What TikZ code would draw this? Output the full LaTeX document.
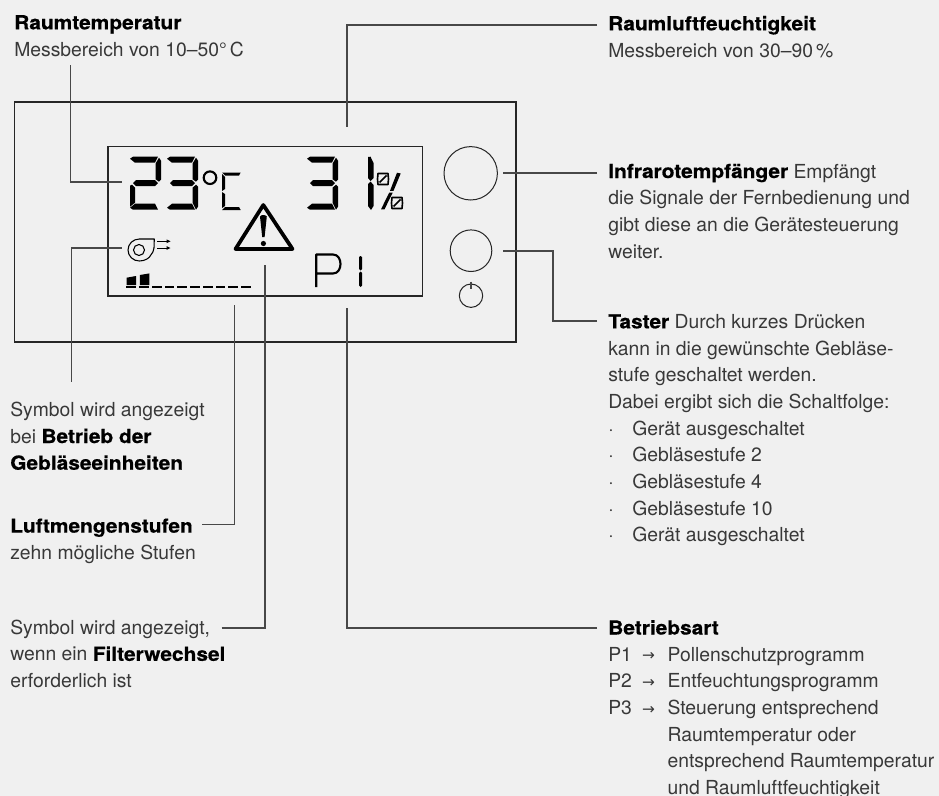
\documentclass[tikz,border=0pt]{standalone}
\usepackage{fontspec}
\setmainfont{TeX Gyre Heros}
\newfontface\hdfont[FakeBold=0.5,FakeStretch=1.08]{TeX Gyre Heros Bold}
\definecolor{bgc}{HTML}{F0F0F0}
\definecolor{txt}{HTML}{383838}
\definecolor{lead}{HTML}{484848}
\newcommand{\sA}{\fill (0,2)--(3,0)--(28,0)--(25,6)--(5,6)--cycle;}
\newcommand{\sB}{\fill (29,1)--(31,4)--(31,23)--(29,25)--(25.5,22.5)--(25.5,7)--cycle;}
\newcommand{\sC}{\fill (29,28)--(31,30)--(31,50)--(29,53)--(25.5,46)--(25.5,31)--cycle;}
\newcommand{\sD}{\fill (0,51)--(5,47)--(25,47)--(28,53)--(3,53)--cycle;}
\newcommand{\sE}{\fill (0,29)--(2,28)--(5,31)--(5,46)--(0,50)--cycle;}
\newcommand{\sG}{\fill (3,26.5)--(6,23.5)--(25,23.5)--(28,26.5)--(25,29.5)--(6,29.5)--cycle;}
\newcommand{\msmall}{%
 \draw[line width=1.2pt,line join=round] (1,0.5)--(11,0.5)--(11.5,6)--(11,11.5)--(1,11.5)--(0.5,6)--cycle (2.5,9.5)--(9.5,2.5);}
\newcommand{\arr}{\raisebox{0.3pt}{\fontspec{DejaVu Sans}\fontsize{11.5}{11.5}\selectfont →}}
\newcommand{\itm}{\makebox[18pt][l]{·}}
\newcommand{\pl}[1]{\makebox[25.3pt][l]{#1}\makebox[19.2pt][l]{\arr}}
\tikzset{
 x=0.75pt,y=-0.75pt,
 leader/.style={draw=lead,line width=0.8pt},
 frame/.style={draw=black!85,line width=0.9pt},
 lbl/.style={anchor=base west,inner sep=0pt,align=left,text=txt,font=\fontsize{14.5}{20}\selectfont},
 ring/.style={draw=black!85,line width=0.75pt},
}
\newcommand{\hd}[1]{{\hdfont\color{black}#1}}
\begin{document}
\begin{tikzpicture}
\useasboundingbox[fill=bgc] (0,0) rectangle (939,796);
% housings
\draw[frame] (14.5,102) rectangle (516,342);
\draw[frame] (108,146.7) rectangle (422.7,296);
\node[ring,circle,minimum size=53.4*0.75pt,inner sep=0pt] (ir) at (470.7,173.3) {};
\node[ring,circle,minimum size=41.6*0.75pt,inner sep=0pt] (btn) at (471,250.7) {};
\node[ring,circle,minimum size=23.4*0.75pt,inner sep=0pt] (pw) at (471,295.7) {};
\draw[draw=lead,line width=0.8pt] (471,281.5)--(471,289);
% digits
\begin{scope}[shift={(130,156.7)}]\sA\sB\sG\sE\sD\end{scope}
\begin{scope}[shift={(167,156.7)}]\sA\sB\sG\sC\sD\end{scope}
\begin{scope}[shift={(307,156.7)}]\sA\sB\sG\sC\sD\end{scope}
\fill (368,157)--(370.5,156.7)--(373.5,163)--(373.5,178)--(370.5,181)--(368,178)--cycle;
\fill (368,184)--(370.5,181.5)--(373.5,185)--(373.5,206)--(371,210)--(368,206)--cycle;
% percent
\fill (397,172.7)--(400.7,173.5)--(393.5,190.8)--(390,190.8)--cycle;
\fill (389.2,192.7)--(392.7,192.7)--(384.5,209.3)--(381,209.3)--cycle;
\begin{scope}[shift={(377,173)}]\msmall\end{scope}
\begin{scope}[shift={(391,197)}]\msmall\end{scope}
% degree C
\draw[line width=1.6pt] (210,177.7) circle (6.3);
\fill (222,172.5)--(240.7,172.5)--(239,175.5)--(225,175.5)--cycle;
\fill (222,174)--(225,177)--(225,189)--(222,191)--cycle;
\fill (222,192)--(225,194)--(225,206)--(222,208)--cycle;
\fill (222,210)--(225,207)--(239,207)--(240.7,210)--cycle;
% fan
\draw[line width=0.8pt,line join=round] (139.3,239) .. controls (133.1,239) and (128,243.9) .. (128,250)
 .. controls (128,256.1) and (133.1,261) .. (139.3,261)
 .. controls (145,261) and (149.5,258) .. (150.5,255.5) .. controls (152.5,253) and (153.8,251) .. (154,248) -- (154.3,239) -- cycle;
\draw[line width=0.8pt] (139,250) circle (5.5);
\draw[line width=0.7pt] (157,241.3)--(167,241.3);\fill (166.5,239.4)--(170.5,241.3)--(166.5,243.2)--cycle;
\draw[line width=0.7pt] (157,248)--(167,248);\fill (166.5,246.1)--(170.5,248)--(166.5,249.9)--cycle;
% level bars
\fill (126.5,285)--(126.5,277.7)--(136,276)--(136,285)--cycle;
\fill (139.9,285)--(139.9,275)--(149.4,273.4)--(149.4,285)--cycle;
\foreach \i in {0,...,9} \fill (126.4+12.75*\i,286.3) rectangle ++(9.6,2.1);
% warning
\draw[line width=2.8pt,line join=round] (263.3,205)--(292.5,249)--(235.5,249)--cycle;
\fill (260,216.5) .. controls (261,214.5) and (265.5,214.5) .. (266.8,216.5)--(264.6,237)--(262.2,237)--cycle;
\fill (263.4,243.5) circle (2.6);
% P1
\draw[line width=1.6pt,line join=round] (316.3,287)--(316.3,254.5)--(333,254.5) .. controls (343,254.5) and (343,273.5) .. (333,273.5)--(316.3,273.5);
\fill (359,257)--(360.5,256)--(362,257)--(362,269)--(360.5,270.5)--(359,269)--cycle;
\fill (359,273)--(360.5,271.5)--(362,273)--(362,285.5)--(360.5,287)--(359,285.5)--cycle;
% labels
\node[lbl] (a) at (14,56) {\hd{Raumtemperatur}\\Messbereich von 10--50°\,C};
\node[lbl] (b) at (608,57) {\hd{Raumluftfeuchtigkeit}\\Messbereich von 30--90\,\%};
\node[lbl] (c) at (608,258) {\hd{Infrarotempfänger} Empfängt\\die Signale der Fernbedienung und\\gibt diese an die Gerätesteuerung\\weiter.};
\node[lbl] (d) at (608,541.7) {\hd{Taster} Durch kurzes Drücken\\kann in die gewünschte Gebläse-\\stufe geschaltet werden.\\Dabei ergibt sich die Schaltfolge:\\\itm Gerät ausgeschaltet\\\itm Gebläsestufe 2\\\itm Gebläsestufe 4\\\itm Gebläsestufe 10\\\itm Gerät ausgeschaltet};
\node[lbl] (e) at (608,794.5) {\hd{Betriebsart}\\\pl{P1}Pollenschutzprogramm\\\pl{P2}Entfeuchtungsprogramm\\\pl{P3}Steuerung entsprechend\\\hspace{44.5pt}Raumtemperatur oder\\\hspace{44.5pt}entsprechend Raumtemperatur\\\hspace{44.5pt}und Raumluftfeuchtigkeit};
\node[lbl] (f) at (10,469.7) {Symbol wird angezeigt\\bei \hd{Betrieb der}\\\hd{Gebläseeinheiten}};
\node[lbl] (g) at (10,559.3) {\hd{Luftmengenstufen}\\zehn mögliche Stufen};
\node[lbl] (h) at (10,687.5) {Symbol wird angezeigt,\\wenn ein \hd{Filterwechsel}\\erforderlich ist};
% connector ends
\coordinate (a0) at (70.5,65);\coordinate (a1) at (122,182);
\coordinate (b0) at (597,25);\coordinate (b1) at (347,127);
\coordinate (c0) at (597,173);\coordinate (c1) at (503,173);
\coordinate (d0) at (597,321);\coordinate (d1) at (503,251);
\coordinate (e0) at (597,628);\coordinate (e1) at (347,308);
\coordinate (f0) at (71.5,381.7);\coordinate (f1) at (122,248);
\coordinate (g0) at (202.3,524.5);\coordinate (g1) at (234.5,305);
\coordinate (h0) at (221.7,628);\coordinate (h1) at (265,265);
\draw[leader] (a0) |- (a1);
\draw[leader] (b0) -| (b1);
\draw[leader] (c0) -- (c1);
\draw[leader] (d0) -| (553,251) -- (d1);
\draw[leader] (e0) -| (e1);
\draw[leader] (f0) |- (f1);
\draw[leader] (g0) -| (g1);
\draw[leader] (h0) -| (h1);
\end{tikzpicture}
\end{document}
